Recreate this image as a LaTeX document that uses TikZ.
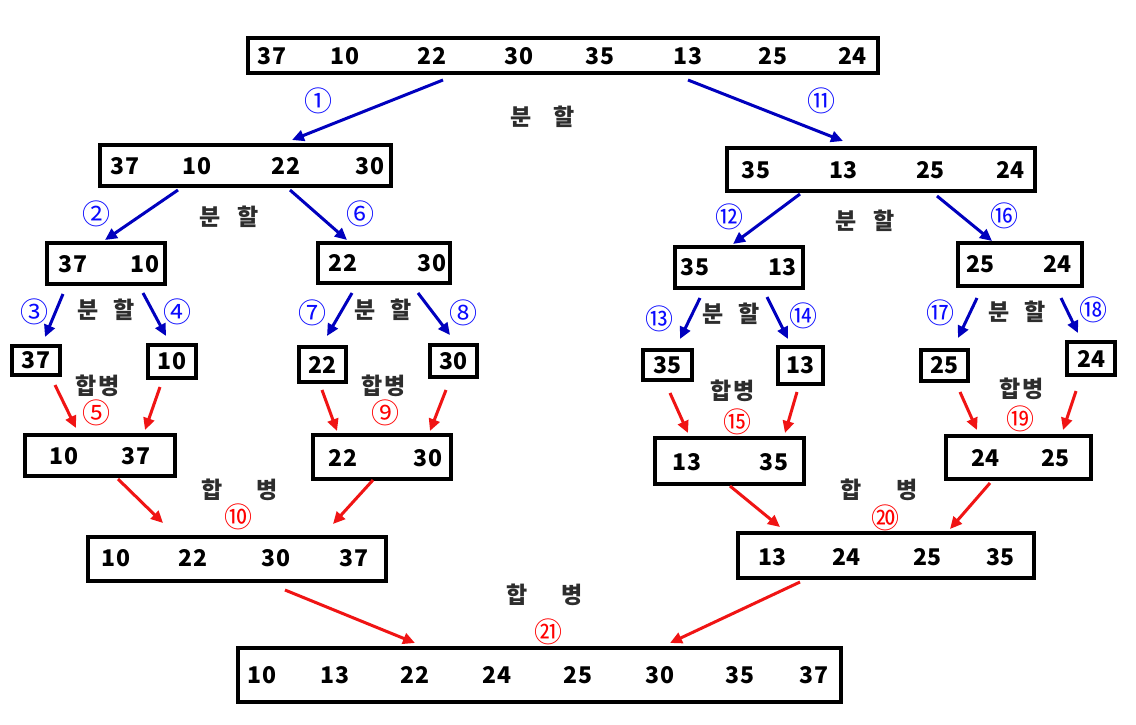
\documentclass[tikz,border=0pt]{standalone}
\usepackage{fontspec}
\setmainfont{Noto Sans CJK KR}
\usetikzlibrary{arrows.meta,calc}
\definecolor{arrblue}{RGB}{0,0,190}
\definecolor{cblue}{RGB}{10,10,255}
\definecolor{arrred}{RGB}{240,20,20}
\definecolor{cred}{RGB}{255,0,0}
\definecolor{lbl}{RGB}{45,45,45}
\tikzset{
  box/.style={draw=black, line width=4pt, fill=white, inner sep=0pt, outer sep=0pt},
  num/.style={font=\bfseries\fontsize{23}{23}\selectfont, text=black, inner sep=0pt},
  kor/.style={font=\bfseries\fontsize{23}{23}\selectfont, text=lbl, inner sep=0pt},
  cnb/.style={font=\fontsize{28}{28}\selectfont, text=cblue, inner sep=0pt},
  cnr/.style={font=\fontsize{28}{28}\selectfont, text=cred, inner sep=0pt},
  splitarrow/.style={draw=arrblue, line width=3pt, -{Triangle[length=12pt,width=11pt]}},
  mergearrow/.style={draw=arrred, line width=3pt, -{Triangle[length=12pt,width=11pt]}},
}
\newcommand{\boxnode}[5]{% name, x1, y1, x2, y2
  \node[box, minimum width={#4-#2}, minimum height={#5-#3}] (#1) at ({(#2+#4)/2},{(#3+#5)/2}) {};}
\begin{document}
\begin{tikzpicture}[x=1pt,y=-1pt]
\useasboundingbox (0,0) rectangle (1136,724);
\fill[white] (0,0) rectangle (1136,724);

% ---- boxes ----
\boxnode{top}{248}{38}{878}{73}
\boxnode{la}{100}{145}{391}{186}
\boxnode{ra}{727}{148}{1035}{191}
\boxnode{lb}{47}{243}{165}{284}
\boxnode{lc}{318}{243}{450}{283}
\boxnode{rb}{675}{247}{803}{288}
\boxnode{rc}{958}{243}{1082}{286}
\boxnode{s37}{12}{346}{60}{375}
\boxnode{s10}{148}{345}{196}{378}
\boxnode{s22}{299}{347}{346}{382}
\boxnode{s30}{430}{345}{477}{377}
\boxnode{s35}{643}{350}{692}{380}
\boxnode{s13}{778}{347}{823}{384}
\boxnode{s25}{921}{350}{968}{381}
\boxnode{s24}{1067}{342}{1115}{375}
\boxnode{ma}{25}{435}{175}{476}
\boxnode{mb}{313}{435}{451}{479}
\boxnode{mc}{655}{438}{804}{484}
\boxnode{md}{946}{436}{1091}{479}
\boxnode{fa}{88}{537}{386}{581}
\boxnode{fb}{738}{533}{1034}{578}
\boxnode{bot}{238}{648}{841}{702}

% ---- numbers ----
\foreach \v/\x [count=\i] in {37/272,10/345,22/432,30/519,35/600,13/688,25/773,24/852}
  \node[num] (top-\i) at (\x,56) {\v};
\foreach \v/\x [count=\i] in {37/125,10/197,22/286,30/370}
  \node[num] (la-\i) at (\x,166) {\v};
\foreach \v/\x [count=\i] in {35/756,13/843,25/930,24/1010}
  \node[num] (ra-\i) at (\x,170) {\v};
\foreach \v/\x [count=\i] in {37/73,10/145}
  \node[num] (lb-\i) at (\x,264) {\v};
\foreach \v/\x [count=\i] in {22/343,30/432}
  \node[num] (lc-\i) at (\x,263) {\v};
\foreach \v/\x [count=\i] in {35/695,13/782}
  \node[num] (rb-\i) at (\x,267) {\v};
\foreach \v/\x [count=\i] in {25/980,24/1057}
  \node[num] (rc-\i) at (\x,264) {\v};
\node[num] (s37-t) at (s37) {37};
\node[num] (s10-t) at (s10) {10};
\node[num] (s22-t) at (s22) {22};
\node[num] (s30-t) at (s30) {30};
\node[num] (s35-t) at (s35) {35};
\node[num] (s13-t) at (s13) {13};
\node[num] (s25-t) at (s25) {25};
\node[num] (s24-t) at (s24) {24};
\foreach \v/\x [count=\i] in {10/64,37/136}
  \node[num] (ma-\i) at (\x,456) {\v};
\foreach \v/\x [count=\i] in {22/343,30/428}
  \node[num] (mb-\i) at (\x,458) {\v};
\foreach \v/\x [count=\i] in {13/687,35/774}
  \node[num] (mc-\i) at (\x,462) {\v};
\foreach \v/\x [count=\i] in {24/985,25/1055}
  \node[num] (md-\i) at (\x,458) {\v};
\foreach \v/\x [count=\i] in {10/116,22/193,30/276,37/354}
  \node[num] (fa-\i) at (\x,558) {\v};
\foreach \v/\x [count=\i] in {13/772,24/846,25/927,35/1000}
  \node[num] (fb-\i) at (\x,557) {\v};
\foreach \v/\x [count=\i] in {10/262,13/335,22/415,24/497,25/578,30/660,35/740,37/814}
  \node[num] (bot-\i) at (\x,675) {\v};

% ---- split arrows ----
\draw[splitarrow] ($(top.south west)+(195,7)$) -- ($(la.north west)+(192,-5)$);
\draw[splitarrow] ($(top.south west)+(440,7)$) -- ($(ra.north west)+(116,-7)$);
\draw[splitarrow] ($(la.south west)+(78,4)$) -- ($(lb.north west)+(58,-3)$);
\draw[splitarrow] ($(la.south west)+(190,4)$) -- ($(lc.north west)+(29,-3)$);
\draw[splitarrow] ($(ra.south west)+(73,3)$) -- ($(rb.north west)+(58,-3)$);
\draw[splitarrow] ($(ra.south west)+(210,5)$) -- ($(rc.north west)+(34,-2)$);
\draw[splitarrow] ($(lb.south west)+(16,10)$) -- ($(s37.north west)+(33,-9)$);
\draw[splitarrow] ($(lb.south west)+(96,9)$) -- ($(s10.north west)+(18,-9)$);
\draw[splitarrow] ($(lc.south west)+(34,10)$) -- ($(s22.north west)+(28,-11)$);
\draw[splitarrow] ($(lc.south west)+(100,10)$) -- ($(s30.north west)+(20,-10)$);
\draw[splitarrow] ($(rb.south west)+(25,10)$) -- ($(s35.north west)+(37,-11)$);
\draw[splitarrow] ($(rb.south west)+(92,9)$) -- ($(s13.north west)+(10,-8)$);
\draw[splitarrow] ($(rc.south west)+(19,12)$) -- ($(s25.north west)+(37,-12)$);
\draw[splitarrow] ($(rc.south west)+(103,12)$) -- ($(s24.north west)+(11,-9)$);

% ---- merge arrows ----
\draw[mergearrow] ($(s37.south west)+(43,10)$) -- ($(ma.north west)+(51,-7)$);
\draw[mergearrow] ($(s10.south west)+(12,9)$) -- ($(ma.north west)+(120,-5)$);
\draw[mergearrow] ($(s22.south west)+(23,8)$) -- ($(mb.north west)+(24,-4)$);
\draw[mergearrow] ($(s30.south west)+(16,13)$) -- ($(mb.north west)+(117,-4)$);
\draw[mergearrow] ($(s35.south west)+(27,13)$) -- ($(mc.north west)+(33,-5)$);
\draw[mergearrow] ($(s13.south west)+(19,8)$) -- ($(mc.north west)+(130,-5)$);
\draw[mergearrow] ($(s25.south west)+(39,11)$) -- ($(md.north west)+(31,-6)$);
\draw[mergearrow] ($(s24.south west)+(9,16)$) -- ($(md.north west)+(117,-6)$);
\draw[mergearrow] ($(ma.south west)+(93,3)$) -- ($(fa.north west)+(75,-14)$);
\draw[mergearrow] ($(mb.south west)+(60,1)$) -- ($(fa.north west)+(245,-13)$);
\draw[mergearrow] ($(mc.south west)+(75,2)$) -- ($(fb.north west)+(42,-6)$);
\draw[mergearrow] ($(md.south west)+(44,4)$) -- ($(fb.north west)+(212,-4)$);
\draw[mergearrow] ($(fa.south west)+(197,9)$) -- ($(bot.north west)+(177,-5)$);
\draw[mergearrow] ($(fb.south west)+(62,4)$) -- ($(bot.north west)+(432,-5)$);

% ---- Korean labels ----
\node[kor] (k1) at (543,117) {분\hspace{22pt}할};
\node[kor] (k2) at (229,217) {분\hspace{17pt}할};
\node[kor] (k3) at (865,221) {분\hspace{17pt}할};
\node[kor] (k4) at (106,310) {분\hspace{15pt}할};
\node[kor] (k5) at (383,310) {분\hspace{15pt}할};
\node[kor] (k6) at (731,314) {분\hspace{15pt}할};
\node[kor] (k7) at (1017,312) {분\hspace{15pt}할};
\node[kor] (h1) at (98,386) {합\hspace{2pt}병};
\node[kor] (h2) at (384,386) {합\hspace{2pt}병};
\node[kor] (h3) at (733,391) {합\hspace{2pt}병};
\node[kor] (h4) at (1022,389) {합\hspace{2pt}병};
\node[kor] (h5) at (240,490) {합\hspace{34pt}병};
\node[kor] (h6) at (879,490) {합\hspace{34pt}병};
\node[kor] (h7) at (545,595) {합\hspace{34pt}병};

% ---- circled step numbers ----
\node[cnb] (c1) at (318,101) {①};
\node[cnb] (c11) at (821,101) {⑪};
\node[cnb] (c2) at (96,214) {②};
\node[cnb] (c6) at (360,214) {⑥};
\node[cnb] (c12) at (729,217) {⑫};
\node[cnb] (c16) at (1004,216) {⑯};
\node[cnb] (c3) at (34,312) {③};
\node[cnb] (c4) at (177,312) {④};
\node[cnb] (c7) at (312,313) {⑦};
\node[cnb] (c8) at (463,313) {⑧};
\node[cnb] (c13) at (659,319) {⑬};
\node[cnb] (c14) at (803,316) {⑭};
\node[cnb] (c17) at (940,313) {⑰};
\node[cnb] (c18) at (1093,310) {⑱};
\node[cnr] (c5) at (96,413) {⑤};
\node[cnr] (c9) at (385,413) {⑨};
\node[cnr] (c15) at (737,422) {⑮};
\node[cnr] (c19) at (1020,419) {⑲};
\node[cnr] (c10) at (238,517) {⑩};
\node[cnr] (c20) at (885,518) {⑳};
\node[cnr] (c21) at (548,632) {㉑};
\end{tikzpicture}
\end{document}
